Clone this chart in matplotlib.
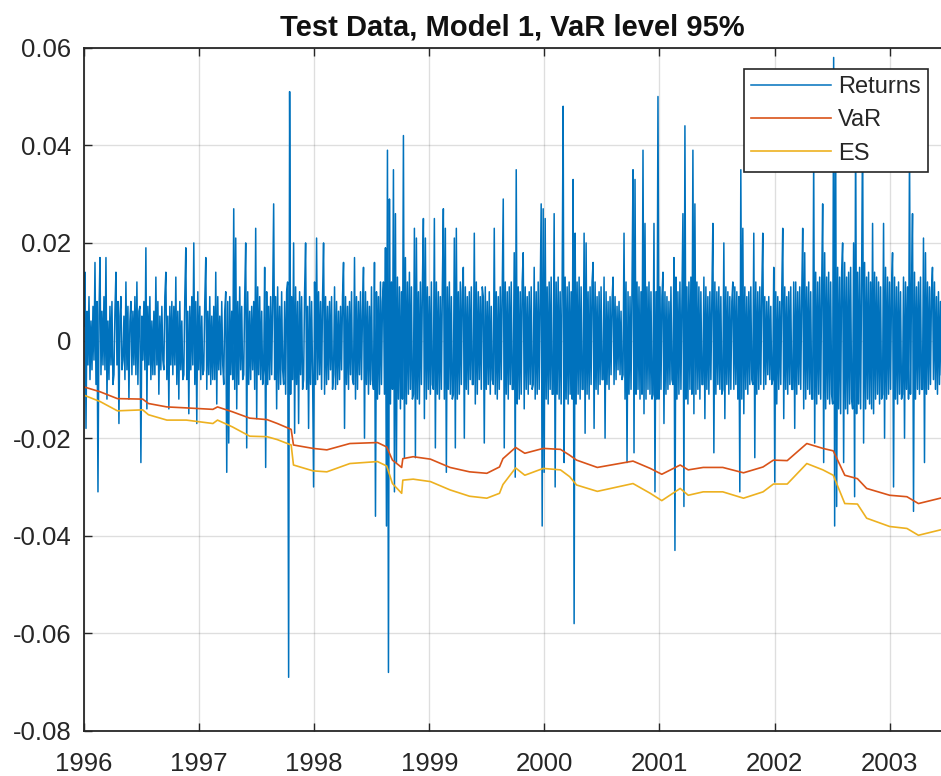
import matplotlib
matplotlib.use('Agg')
import matplotlib.pyplot as plt
import numpy as np

plt.rcParams['font.family'] = ['Liberation Sans', 'DejaVu Sans']

# returns, in units of 1e-3, read column by column (one row ~ one month)
returns_rows = [
    [3, 14, -18, 6, -5, 9, -8, 4, -6, 7],
    [-4, 16, -9, 8, -31, 5, 17, -7, 6, -5],
    [9, -6, 17, -12, 4, -8, 7, -5, 8, -9],
    [-7, 6, 14, -5, 8, -17, 5, 9, -6, -4],
    [5, -8, 12, -6, 7, -12, 4, 8, -7, 6],
    [-5, 9, -7, 12, -9, 6, 7, -25, 5, -4],
    [8, -6, 19, -14, 7, -5, 9, -8, 4, -7],
    [6, -7, 13, -5, 8, -11, 5, -6, 7, -4],
    [-6, 9, 14, -8, 5, -14, 7, -5, 8, -7],
    [7, -5, 13, -9, 6, -12, 8, -6, 4, -8],
    [-7, 9, 19, -8, 6, -15, 7, -6, 9, -5],
    [20, -9, 8, -17, 10, -6, 7, -8, 5, -7],
    [-6, 8, 17, -10, 6, -7, 9, -9, 5, -8],
    [7, -8, 14, -13, 9, -6, 5, -7, 8, -5],
    [-9, 6, 10, -27, 8, -21, 9, -7, 6, -8],
    [27, -10, 21, -14, 8, -9, 11, -6, 7, -8],
    [-7, 9, 20, -22, 10, -9, 6, -8, 7, -6],
    [8, -10, 23, -16, 11, -7, 9, -8, 6, -9],
    [-6, 15, -26, 10, -9, 7, -8, 9, -7, 8],
    [28, -8, 9, -14, 11, -10, 7, -9, 10, -6],
    [-9, 8, -11, 10, 12, -69, 51, -11, 9, -8],
    [20, -19, 11, -9, 8, -17, 10, -7, 9, -10],
    [-8, 10, 20, -10, 7, -18, 9, -9, 8, -7],
    [-30, 12, -9, 21, -8, 10, -7, 8, -10, 9],
    [20, -11, 9, -9, 7, -8, 8, -6, 9, -10],
    [-7, 11, -10, 8, -9, 6, -8, 7, -6, 9],
    [16, -18, 9, -9, 7, -10, 8, -7, 10, -8],
    [-9, 17, -12, 9, -10, 8, -7, 10, -8, 6],
    [15, -20, 10, -9, 8, -11, 7, -9, 11, -8],
    [-10, 16, -36, 10, -12, 9, -11, 12, -9, 8],
    [12, -11, 19, -38, 39, -68, 29, -13, 12, -10],
    [35, -31, 26, -25, 13, -12, 11, -14, 10, -12],
    [42, -24, 17, -13, 12, -11, 14, -10, 11, -12],
    [-11, 23, -24, 21, -12, 10, -13, 12, -9, 11],
    [25, -16, 21, -12, 11, -10, 9, -11, 12, -9],
    [-10, 25, -22, 12, -11, 10, -12, 9, -10, 11],
    [27, -12, 23, -27, 11, -10, 12, -11, 9, -12],
    [-11, 21, -22, 23, -12, 10, -11, 12, -9, 10],
    [15, -20, 11, -10, 9, -11, 10, -8, 11, -9],
    [-9, 22, -13, 12, -11, 10, -8, 9, -10, 11],
    [9, -21, 11, -10, 8, -9, 10, -11, 7, -8],
    [-9, 23, -11, 10, -12, 9, -10, 11, -8, 10],
    [29, -22, 12, -11, 10, -12, 11, -9, 12, -10],
    [-10, 18, -28, 35, -13, 11, -12, 10, -11, 12],
    [18, -14, 11, -10, 9, -11, 10, -9, 11, -10],
    [-9, 15, -12, 10, -11, 12, -10, 9, 28, -38],
    [27, -27, 25, -12, 11, -13, 12, -10, 13, -11],
    [-11, 26, -30, 12, -11, 13, -12, 10, -13, 11],
    [48, -25, 13, -12, 11, -13, 12, -11, 10, -12],
    [33, -58, 22, -13, 12, -11, 13, -12, 11, -10],
    [-10, 22, -19, 20, -11, 10, -12, 11, -9, 12],
    [16, -18, 12, -10, 9, -11, 10, -9, 11, -8],
    [-8, 13, -20, 10, -9, 8, -10, 9, -7, 8],
    [13, -9, 9, -8, 7, -6, 8, -7, 6, -8],
    [-7, 22, -12, 12, -25, 10, -11, 9, -10, 11],
    [35, -23, 33, -11, 12, -10, 11, -12, 10, -11],
    [39, -15, 24, -12, 11, -10, 12, -11, 10, -12],
    [-11, 24, -31, 10, -12, 50, -12, 11, -10, 9],
    [14, -17, 10, -11, 9, -10, 8, -9, 11, -8],
    [-9, 17, -43, 13, -12, 10, -11, 12, -10, 9],
    [26, -34, 44, -12, 11, -13, 12, -10, 13, -11],
    [39, -15, 28, -11, 12, -10, 11, -12, 10, -9],
    [-9, 13, -16, 11, -10, 9, -11, 10, -8, 9],
    [24, -23, 12, -11, 10, -9, 11, -10, 9, -11],
    [-10, 20, -16, 11, -9, 10, -11, 9, -10, 8],
    [12, -10, 11, -9, 10, -12, 9, -31, 35, -12],
    [23, -15, 11, -10, 9, -11, 10, -9, 11, -8],
    [-9, 22, -24, 12, -11, 10, -10, 11, -9, 10],
    [22, -10, 9, -9, 8, -7, 9, -8, 7, -9],
    [-8, 15, -29, 10, -13, 9, -10, 8, -9, 10],
    [23, -16, 11, -10, 9, -11, 10, -9, 11, -10],
    [-10, 12, -18, 12, -11, 10, -9, 11, -10, 9],
    [23, -14, 18, -12, 11, -10, 12, -11, 10, -12],
    [-12, 38, -21, 14, -13, 12, -11, 13, -12, 11],
    [28, -25, 18, -14, 13, -12, 14, -13, 12, -11],
    [-13, 58, -38, 42, -34, 15, -14, 13, -15, 14],
    [20, -25, 16, -14, 13, -15, 14, -13, 15, -12],
    [-14, 20, -32, 45, -15, 14, -13, 15, -14, 12],
    [45, -21, 16, -14, 13, -12, 14, -13, 12, -14],
    [24, -15, 14, -12, 13, -11, 12, -13, 11, -12],
    [-11, 24, -20, 15, -12, 13, -11, 12, -10, 11],
    [18, -30, 13, -12, 11, -13, 12, -11, 10, -12],
    [-11, 13, -20, 12, -10, 11, -12, 40, -11, 10],
    [26, -35, 14, -12, 11, -10, 12, -11, 13, -10],
    [-10, 21, -25, 18, -11, 12, -10, 11, -9, 10],
    [15, -8, 12, -10, 9, -11, 10, -9, 8, -7],
]

risk_t = [1996.00, 1996.14, 1996.29, 1996.51, 1996.56, 1996.72, 1996.89, 1997.12,
          1997.16, 1997.29, 1997.44, 1997.59, 1997.68, 1997.80, 1997.82, 1997.99,
          1998.11, 1998.31, 1998.55, 1998.63, 1998.68, 1998.76, 1998.77, 1998.86,
          1999.01, 1999.18, 1999.35, 1999.50, 1999.61, 1999.64, 1999.75, 1999.83,
          1999.99, 2000.14, 2000.22, 2000.28, 2000.46, 2000.77, 2000.92, 2001.02,
          2001.18, 2001.25, 2001.38, 2001.55, 2001.73, 2001.90, 2001.99, 2002.11,
          2002.28, 2002.42, 2002.51, 2002.61, 2002.72, 2002.80, 2003.00, 2003.15,
          2003.25, 2003.44]
var_vals = [-9.5, -10.5, -11.9, -12.0, -12.9, -13.6, -13.8, -14.1,
            -13.6, -14.6, -15.9, -16.2, -17.0, -18.2, -21.4, -22.1,
            -22.4, -21.1, -20.9, -21.8, -24.5, -26.0, -24.2, -23.8,
            -24.3, -26.0, -26.9, -27.2, -25.9, -24.2, -21.9, -23.1,
            -22.1, -22.3, -23.5, -24.5, -26.0, -24.7, -26.2, -27.4,
            -25.5, -26.5, -26.0, -26.0, -27.1, -25.9, -24.5, -24.6,
            -21.1, -22.1, -22.6, -27.6, -28.3, -30.3, -31.7, -32.0,
            -33.4, -32.3]
es_vals = [-11.2, -12.5, -14.4, -14.2, -15.2, -16.3, -16.3, -17.0,
           -16.3, -17.7, -19.6, -19.7, -20.3, -21.4, -25.5, -26.7,
           -26.9, -25.2, -24.8, -25.7, -29.3, -31.3, -28.6, -28.4,
           -28.9, -30.6, -31.9, -32.3, -31.3, -29.5, -26.1, -27.6,
           -26.2, -26.5, -27.9, -29.6, -30.9, -29.3, -31.3, -32.8,
           -30.3, -31.7, -31.0, -31.0, -32.3, -31.0, -29.4, -29.4,
           -25.2, -26.5, -27.6, -33.4, -33.5, -36.4, -38.1, -38.5,
           -39.9, -38.8]

year_ticks = [1996, 1997, 1998, 1999, 2000, 2001, 2002, 2003]
y_ticks = [-0.08, -0.06, -0.04, -0.02, 0, 0.02, 0.04, 0.06]
y_labels = ['-0.08', '-0.06', '-0.04', '-0.02', '0', '0.02', '0.04', '0.06']

returns = np.array(returns_rows).ravel() / 1000
t_ret = np.linspace(1996.0, 2003.45, len(returns))

fig = plt.figure(figsize=(9.41, 7.76), dpi=100)
ax = fig.add_axes([84 / 941, 1 - 731 / 776, 1 - 84 / 941, (731 - 47.7) / 776])

ax.plot(t_ret, returns, color='#0072BD', linewidth=1.1, label='Returns')
ax.plot(risk_t, np.array(var_vals) / 1000, color='#D95319', linewidth=1.2, label='VaR')
ax.plot(risk_t, np.array(es_vals) / 1000, color='#EDB120', linewidth=1.2, label='ES')

ax.set_xlim(1996, 2003.446)
ax.set_ylim(-0.08, 0.06)
ax.set_xticks(year_ticks)
ax.set_xticklabels([str(y) for y in year_ticks])
ax.set_yticks(y_ticks)
ax.set_yticklabels(y_labels)
ax.grid(True, color='#262626', alpha=0.15, linewidth=1)
ax.tick_params(direction='in', length=6, width=1, colors='#262626',
               labelsize=18.5, top=True)
ax.tick_params(axis='x', pad=15)
ax.tick_params(axis='y', pad=9)
for s in ['left', 'bottom', 'top']:
    ax.spines[s].set_color('#262626')
    ax.spines[s].set_linewidth(1.3)
ax.spines['right'].set_visible(False)

ax.set_title('Test Data, Model 1, VaR level 95%', fontsize=21, fontweight='bold',
             color='#111111', pad=9)

leg = ax.legend(loc='upper right', fontsize=17, frameon=True,
                fancybox=False, edgecolor='#262626', framealpha=1,
                handlelength=3.4, borderpad=0.3, labelspacing=0.48,
                handletextpad=0.3, borderaxespad=0)
leg.get_frame().set_linewidth(1.2)
leg.set_bbox_to_anchor((928 / 941, 1 - 69 / 776), transform=fig.transFigure)
for txt in leg.get_texts():
    txt.set_color('#262626')

plt.savefig('out.png', dpi=100)
